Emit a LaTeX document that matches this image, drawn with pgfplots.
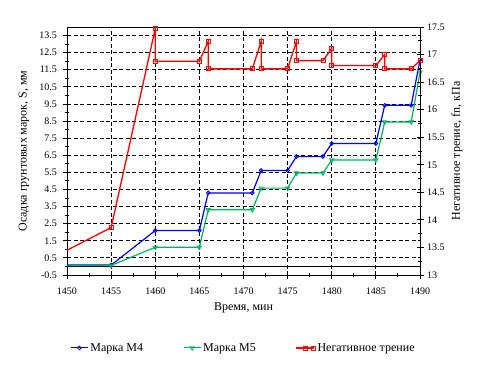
\documentclass[border=0pt]{standalone}
\usepackage{fontspec}
\setmainfont{Liberation Serif}
\usepackage{pgfplots}
\pgfplotsset{compat=1.18}
\definecolor{cblue}{RGB}{0,0,255}
\definecolor{cgreen}{RGB}{0,180,90}
\definecolor{cred}{RGB}{255,0,0}

\pgfplotstableread{
t s
1450 0.08
1455 0.08
1460 2.10
1465 2.10
1466 4.30
1471 4.30
1472 5.61
1475 5.61
1476 6.43
1479 6.43
1480 7.19
1485 7.19
1486 9.42
1489 9.42
1490 12.07
}\mfour

\pgfplotstableread{
t s
1450 0.06
1455 0.06
1460 1.12
1465 1.12
1466 3.31
1471 3.31
1472 4.58
1475 4.58
1476 5.46
1479 5.46
1480 6.22
1485 6.22
1486 8.44
1489 8.44
1490 11.35
}\mfive

\pgfplotstableread{
t f
1450 13.45
1455 13.86
1460 17.47
1460 16.88
1465 16.88
1466 17.24
1466 16.74
1471 16.74
1472 17.24
1472 16.74
1475 16.74
1476 17.24
1476 16.89
1479 16.89
1480 17.11
1480 16.80
1485 16.80
1486 17.00
1486 16.74
1489 16.74
1490 16.89
}\negfr

\begin{document}
\begin{tikzpicture}
\useasboundingbox (-67pt,-90pt) rectangle (419pt,275pt);
\pgfplotsset{
  every axis/.append style={
    at={(0pt,0pt)}, anchor=south west,
    scale only axis, width=353pt, height=248pt,
    xmin=1450, xmax=1490,
    tick align=center, major tick length=7pt, minor tick length=4.5pt,
    /pgf/number format/assume math mode=true,
    /pgf/number format/1000 sep={},
    tick label style={font=\fontsize{10}{12}\selectfont, black},
    label style={font=\fontsize{12}{14}\selectfont},
    axis line style={line width=0.9pt, black},
    every tick/.style={black, line width=0.9pt},
    clip mode=individual,
  }
}
\begin{axis}[name=ax,
  ymin=-0.5, ymax=14,
  xtick={1450,1455,...,1490},
  minor xtick={1452.5,1457.5,...,1487.5},
  ytick={-0.5,0.5,...,13.5},
  minor ytick={0,1,...,13},
  xtick pos=bottom, ytick pos=left,
  xticklabel style={yshift=-6pt},
  yticklabel style={xshift=-3pt},
  grid=major,
  major grid style={black, line width=0.9pt, dash pattern=on 4pt off 2.5pt},
  extra y ticks={0},
  extra y tick labels={},
  extra y tick style={major tick length=0pt, grid=major, major grid style={solid, black, line width=0.9pt}},
  xlabel={Время, мин},
  xlabel style={yshift=-1pt},
  ylabel={Осадка грунтовых марок, S, мм},
]
\addplot[cblue, line width=1.2pt, mark=o, mark size=1.9pt, mark options={solid, fill=white, line width=0.8pt}, mark indices={2,...,15}] table[x=t, y=s] {\mfour};
\addplot[cgreen, line width=1.2pt, mark=triangle, mark size=2.4pt, mark options={solid, fill=white, rotate=180, line width=0.8pt}, mark indices={2,...,15}] table[x=t, y=s] {\mfive};
\end{axis}
\begin{axis}[
  ymin=13, ymax=17.5,
  axis x line=none,
  axis y line*=right,
  ytick={13,13.5,...,17.5},
  minor ytick={13.25,13.75,...,17.25},
  yticklabel style={/pgf/number format/fixed},
  ylabel={Негативное трение, fn, кПа},
  legend columns=3,
  legend style={draw=none, fill=none, at={(0.5,-0.294)}, anchor=center, font=\fontsize{12}{14}\selectfont,
    /tikz/every even column/.append style={column sep=38pt}},
]
\addlegendimage{cblue, line width=1pt, mark=o, mark size=1.9pt, mark options={solid, fill=white, line width=0.8pt}}
\addlegendentry{Марка M4}
\addlegendimage{cgreen, line width=1pt, mark=triangle, mark size=2.4pt, mark options={solid, fill=white, rotate=180, line width=0.8pt}}
\addlegendentry{Марка M5}
\addplot[cred, line width=1.3pt, mark=square, mark size=2pt, mark options={solid, fill=white, line width=0.8pt}, mark indices={2,...,21}] table[x=t, y=f] {\negfr};
\addlegendentry{Негативное трение}
\end{axis}
\end{tikzpicture}
\end{document}
